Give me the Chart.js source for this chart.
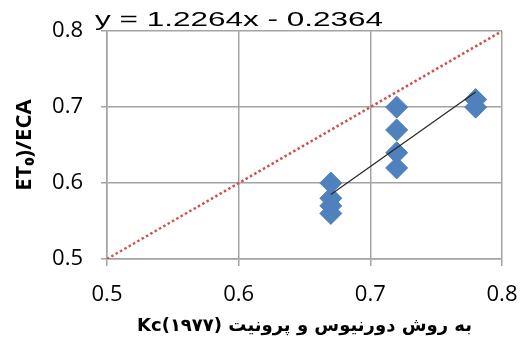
<!DOCTYPE html>
<html>
<head>
<meta charset="utf-8">
<script src="https://cdn.jsdelivr.net/npm/chart.js@4/dist/chart.umd.min.js"></script>
<style>
  html, body { margin: 0; padding: 0; background: #fff; }
  #wrap { width: 527px; height: 349px; }
</style>
</head>
<body>
<div id="wrap"><canvas id="chart" width="527" height="349"></canvas></div>
<script>
// values
const kcX = [0.67, 0.67, 0.67, 0.67, 0.72, 0.72, 0.72, 0.72, 0.78, 0.78];
const etY = [0.60, 0.58, 0.57, 0.56, 0.70, 0.67, 0.64, 0.62, 0.71, 0.70];
const trendX = [0.67, 0.78];
const trendY = [0.585, 0.72];
const lineX = [0.5, 0.8];
const lineY = [0.5, 0.8];
const equation = 'y = 1.2264x - 0.2364';
const xTitle = 'Kc(۱۹۷۷) به روش دورنیوس و پرونیت';
const yTitle = 'ET₀)/ECA';

const toPts = (xs, ys) => xs.map((x, i) => ({ x: x, y: ys[i] }));

const gridColor = '#a3a3a3';
const tickFont = { family: 'Open Sans', size: 22 };

// trendline equation label above the plot
const equationLabel = {
    id: 'equationLabel',
    afterDraw(chart) {
        const ctx = chart.ctx;
        const area = chart.chartArea;
        ctx.save();
        ctx.font = '21px "Liberation Sans", Arial, sans-serif';
        ctx.fillStyle = '#000';
        ctx.textBaseline = 'alphabetic';
        ctx.textAlign = 'left';
        const w = ctx.measureText(equation).width;
        const sx = 288 / w;
        ctx.translate(area.left - 12, area.top - 5);
        ctx.scale(sx, 1);
        ctx.fillText(equation, 0, 0);
        ctx.restore();
    }
};

const chart = new Chart(document.getElementById('chart'), {
    type: 'scatter',
    data: {
        datasets: [
            {
                label: 'trend',
                type: 'line',
                data: toPts(trendX, trendY),
                borderColor: '#262626',
                borderWidth: 1.2,
                pointRadius: 0,
                fill: false,
                order: 0
            },
            {
                label: 'points',
                data: toPts(kcX, etY),
                pointStyle: 'rectRot',
                pointRadius: 11,
                pointHoverRadius: 11,
                backgroundColor: '#4f81bd',
                borderColor: '#4f81bd',
                borderWidth: 1,
                order: 1
            },
            {
                label: '1:1',
                type: 'line',
                data: toPts(lineX, lineY),
                borderColor: '#d0504d',
                borderWidth: 2.5,
                borderDash: [2.5, 2.5],
                pointRadius: 0,
                fill: false,
                order: 2
            }
        ]
    },
    options: {
        responsive: false,
        animation: false,
        layout: { padding: { top: 31, right: 25, bottom: 0, left: 0 } },
        plugins: {
            legend: { display: false },
            tooltip: { enabled: false }
        },
        scales: {
            x: {
                type: 'linear',
                min: 0.5,
                max: 0.8,
                afterFit: (s) => { s.height = 90; s.paddingRight = 0; s.paddingLeft = 0; },
                ticks: {
                    stepSize: 0.1,
                    color: '#000',
                    font: tickFont,
                    padding: 16,
                    callback: (v) => v.toFixed(1)
                },
                grid: { color: gridColor, lineWidth: 1.5, tickLength: 7 },
                border: { color: gridColor, width: 1.5 },
                title: {
                    display: true,
                    text: xTitle,
                    color: '#000',
                    font: { family: 'DejaVu Sans', size: 18, weight: 'bold' },
                    padding: { top: 0, bottom: 12 }
                }
            },
            y: {
                min: 0.5,
                max: 0.8,
                afterFit: (s) => { s.width = 107; },
                ticks: {
                    stepSize: 0.1,
                    color: '#000',
                    font: tickFont,
                    padding: 18,
                    callback: (v) => v.toFixed(1)
                },
                grid: { color: gridColor, lineWidth: 1.5, tickLength: 6 },
                border: { color: gridColor, width: 1.5 },
                title: {
                    display: true,
                    text: yTitle,
                    color: '#000',
                    font: { family: 'Open Sans', size: 22, weight: 'bold' },
                    padding: { top: 12, bottom: 0 }
                }
            }
        }
    },
    plugins: [equationLabel]
});
</script>
</body>
</html>
